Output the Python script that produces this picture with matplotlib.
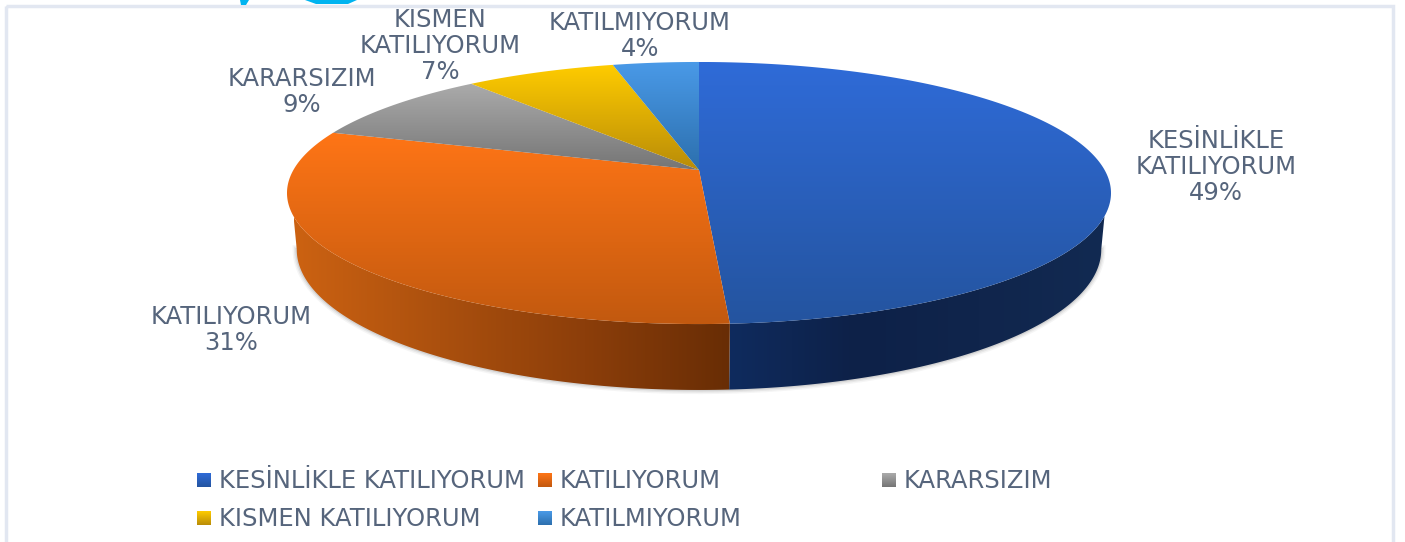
import numpy as np
import matplotlib
matplotlib.use('Agg')
import matplotlib.pyplot as plt
from matplotlib.colors import LinearSegmentedColormap
from matplotlib.patches import Polygon, Rectangle

# Data
categories = ['KESİNLİKLE KATILIYORUM', 'KATILIYORUM', 'KARARSIZIM', 'KISMEN KATILIYORUM', 'KATILMIYORUM']
values = [49, 31, 9, 7, 4]
slice_labels = ['KESİNLİKLE\nKATILIYORUM\n49%', 'KATILIYORUM\n31%', 'KARARSIZIM\n9%',
                'KISMEN\nKATILIYORUM\n7%', 'KATILMIYORUM\n4%']

# Colours
top_colors = [('#2F6BD8', '#24549F'), ('#FF7516', '#C2590F'), ('#ABABAB', '#757575'),
              ('#FFCC00', '#B98C08'), ('#4A9AE8', '#2C6FAD')]
side_colors = {0: ['#0F2B5E', '#0D2148', '#10254C', '#122A52'],
               1: ['#CC6212', '#AB500E', '#8C3E0A', '#682D05']}
text_color = '#56657C'
label_pos = [(1216, 167), (231, 330), (302, 92), (440, 46), (640, 36)]
legend_pos = [(197, 480), (538, 480), (882, 480), (197, 518), (538, 518)]

plt.rcParams['font.family'] = ['DejaVu Sans']
fig = plt.figure(figsize=(14.05, 5.42), dpi=100)
ax = fig.add_axes([0, 0, 1, 1])


def rim(theta, cx, cy, rx, ry, k):
    # perspective projection of the pie circle, theta clockwise from the top
    t = -np.cos(theta)
    den = 1 - k * t
    return cx + rx * np.sin(theta) / den, cy + ry * t / den


def fill_gradient(points, colors, vertical=True, zorder=2):
    points = np.asarray(points)
    cmap = LinearSegmentedColormap.from_list('g', colors)
    ramp = np.linspace(0, 1, 256)
    ramp = ramp[:, None] if vertical else ramp[None, :]
    x0, x1 = points[:, 0].min(), points[:, 0].max()
    y0, y1 = points[:, 1].min(), points[:, 1].max()
    im = ax.imshow(ramp, cmap=cmap, extent=[x0, x1, y1, y0], aspect='auto',
                   origin='upper', zorder=zorder, interpolation='bilinear')
    patch = Polygon(points, closed=True, transform=ax.transData, fc='none', ec='none')
    ax.add_patch(patch)
    im.set_clip_path(patch)


top = dict(cx=699, cy=170, rx=405.6, ry=127, k=0.1756)
bottom = dict(cx=699, cy=225, rx=396, ry=136, k=0.1756)

edges = 2 * np.pi * np.cumsum([0] + values) / sum(values)

# where the wall leaves the top rim / where the lower rim is widest
wall_top = np.radians(110)
wall_low = np.radians(100)

# Soft shadow under the lower rim
th = np.linspace(wall_low, 2 * np.pi - wall_low, 400)
lx, ly = rim(th, **bottom)
for lw, a in [(6, 0.05), (4, 0.08), (2, 0.12)]:
    ax.plot(lx, ly, color='#444444', lw=lw, alpha=a, zorder=1.5)

# Side walls of the two front slices
wall_ranges = {0: ((wall_top, edges[1]), (wall_low, edges[1])),
               1: ((edges[1], 2 * np.pi - wall_top), (edges[1], 2 * np.pi - wall_low))}
for i, colors in side_colors.items():
    (u0, u1), (l0, l1) = wall_ranges[i]
    ux, uy = rim(np.linspace(u0, u1, 200), **top)
    lx, ly = rim(np.linspace(l0, l1, 200), **bottom)
    pts = np.column_stack([np.r_[ux, lx[::-1]], np.r_[uy, ly[::-1]]])
    fill_gradient(pts, colors, vertical=False, zorder=2)

# Top faces
for i in range(len(values)):
    th = np.linspace(edges[i], edges[i + 1], 200)
    x, y = rim(th, **top)
    pts = np.column_stack([np.r_[top['cx'], x], np.r_[top['cy'], y]])
    fill_gradient(pts, top_colors[i], zorder=3)

# Data labels
for text, (x, y) in zip(slice_labels, label_pos):
    ax.text(x, y, text, ha='center', va='center', fontsize=17.5, color=text_color,
            linespacing=1.08, zorder=5)

# Legend
for name, colors, (x, y) in zip(categories, top_colors, legend_pos):
    sq = [(x, y - 7), (x + 14, y - 7), (x + 14, y + 7), (x, y + 7)]
    fill_gradient(sq, colors, zorder=5)
    ax.text(x + 22, y + 1, name, ha='left', va='center', fontsize=17.5, color=text_color, zorder=5)

# Chart frame and the cut-off shapes above it
ax.add_patch(Rectangle((5.5, 5.5), 1387, 560, fc='none', ec='#E2E7F1', lw=2.5, zorder=1))
ax.add_patch(Polygon([(240, 0), (249, 0), (246, 5), (241, 5)], fc='#00B4F0', ec='none', zorder=6))
ax.add_patch(Polygon([(305, 0), (357, 0), (348, 4), (316, 4)], fc='#00B4F0', ec='none', zorder=6))

ax.set_xlim(0, 1405)
ax.set_ylim(542, 0)
ax.axis('off')
fig.savefig('out.png', dpi=100)
